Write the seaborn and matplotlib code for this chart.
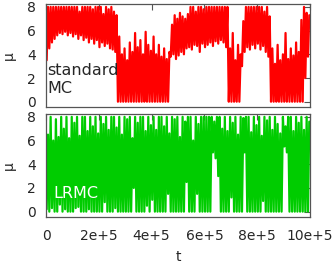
import numpy as np
import pandas as pd
import matplotlib
matplotlib.use("Agg")
import matplotlib.pyplot as plt
import seaborn as sns

# trace envelopes, one bin every 1e4 steps
t_bins = np.arange(100) * 1e4

std_hi = [8, 8, 8, 8, 8, 8, 8, 8, 8, 8,
          8, 8, 7.6, 8, 8, 8, 8, 7.8, 8, 8,
          8, 7.4, 8, 7.8, 8, 7.6, 7.3,
          5.5, 4.0, 4.5, 3.5, 5.0, 4.2, 5.8, 4.6, 5.2, 4.0,
          5.9, 4.8, 4.3, 5.5, 4.0, 4.8, 3.8, 4.5, 3.6, 4.2,
          6.5, 7.3, 7.0, 7.5, 7.2, 7.0, 7.4, 8, 8, 7.6, 8,
          8, 7.8, 8, 8, 8, 8, 8, 8, 8, 8, 8,
          4.5, 5.8, 3.5, 4.8, 4.0,
          6.8, 8, 8, 8, 8, 8, 8, 8, 7.6, 8, 7.2,
          4.5, 3.2, 4.8, 3.5, 4.0, 5.8, 3.6, 4.5, 3.9, 5.0,
          4.2, 6.9, 8.0, 7.5, 7.3]
std_lo = [3.5, 4.5, 5.0, 5.3, 5.6, 5.8, 5.7, 5.9, 5.6, 5.8,
          5.5, 5.7, 5.3, 5.6, 5.2, 5.4, 5.0, 5.3, 4.9, 5.2,
          4.6, 5.0, 4.7, 4.9, 4.5, 4.4, 4.2,
          0, 0, 0, 0, 0, 0, 0, 0, 0, 0,
          0, 0, 0, 0, 0, 0, 0, 0, 0, 0,
          3.8, 4.0, 3.6, 3.9, 4.2, 4.0, 4.5, 4.6, 4.4, 4.8, 4.7,
          4.2, 4.9, 4.6, 4.8, 5.0, 4.7, 5.1, 4.9, 5.2, 5.0, 4.6,
          0, 0, 0, 0, 0,
          3.0, 4.2, 4.6, 4.4, 4.8, 4.5, 4.9, 4.4, 4.7, 4.2, 3.8,
          0, 0, 0, 0, 0, 0, 0, 0, 0, 0,
          0, 0, 0, 2.0, 3.8]

lr_hi = [6.5, 8, 6.0, 7.8, 6.3, 8, 7.0, 8, 6.2, 8,
         7.5, 8, 6.4, 8, 8, 6.8, 8, 7.2, 8, 6.6,
         8, 7.4, 8, 6.9, 8, 8, 7.1, 8, 6.5, 8,
         7.8, 8, 6.2, 8, 7.5, 8, 8, 6.8, 8, 7.3,
         8, 6.9, 8, 8, 7.2, 8, 6.6, 8, 7.8, 8,
         6.3, 8, 7.6, 8, 8, 6.0, 8, 7.4, 8, 8,
         8, 8, 8, 7.6, 8, 8, 7.0, 8, 6.8, 8,
         7.5, 8, 6.5, 8, 7.9, 8, 8, 6.7, 8, 7.3,
         8, 6.4, 8, 7.7, 8, 6.9, 8, 7.4, 6.6, 8,
         7.2, 8, 8, 6.8, 8, 7.5, 8, 6.9, 8, 7.6]
lr_lo = [0.2, 0, 0.3, 0, 0, 0.6, 0, 0.2, 0, 0,
         0, 0.3, 0.4, 0, 0, 0, 0.2, 0, 0, 0,
         0, 0, 0.8, 0, 0, 0, 0.3, 0, 0, 0,
         0, 0, 0, 2.0, 0, 0, 0, 0, 0.5, 0,
         1.0, 0, 0, 0, 0, 0, 1.5, 0, 0, 0,
         0, 0, 0, 2.5, 0, 0, 0, 1.5, 0, 0,
         0, 0, 0, 5.0, 4.5, 3.0, 0, 0, 0, 0,
         1.2, 0, 0, 0, 0, 5.0, 0, 0, 0, 0,
         0, 0, 0.9, 0, 0, 0, 0, 0, 0, 0,
         5.5, 5.0, 0, 0, 0, 0, 0, 0, 0, 0]

x_ticks = [0, 2e5, 4e5, 6e5, 8e5, 10e5]
x_labels = ['0', '2e+5', '4e+5', '6e+5', '8e+5', '10e+5']
y_ticks = [0, 2, 4, 6, 8]


def trace(lo, hi):
    # one swing between the low and high edge inside every bin
    t = np.repeat(t_bins, 2) + np.tile([2.5e3, 7.5e3], len(t_bins))
    mu = np.column_stack([lo, hi]).ravel()
    return pd.DataFrame({'t': t, 'mu': mu})


sns.set_style('white')
plt.rcParams['font.family'] = ['DejaVu Sans']

fig = plt.figure(figsize=(3.32, 2.63), dpi=100)
ax1 = fig.add_axes([0.1386, 0.593, 0.795, 0.392])
ax2 = fig.add_axes([0.1386, 0.175, 0.795, 0.392])

sns.lineplot(data=trace(std_lo, std_hi), x='t', y='mu', ax=ax1,
             color='#ff0000', lw=1.6, estimator=None)
sns.lineplot(data=trace(lr_lo, lr_hi), x='t', y='mu', ax=ax2,
             color='#00cc00', lw=1.6, estimator=None)

for ax in (ax1, ax2):
    ax.set_xlim(0, 1e6)
    ax.set_ylim(-0.45, 8.25)
    ax.set_xticks(x_ticks)
    ax.set_yticks(y_ticks)
    ax.set_ylabel('μ', fontsize=10, labelpad=8)
    ax.tick_params(direction='in', top=True, right=True, length=4,
                   width=0.8, color='#555555', labelsize=10)
    ax.tick_params(axis='y', pad=7.5)
    ax.tick_params(axis='x', pad=8.5)
    for s in ax.spines.values():
        s.set_color('#555555')
        s.set_linewidth(0.9)
        s.set_zorder(5)

ax1.set_xticklabels([])
ax1.set_xlabel('')
ax2.set_xticklabels(x_labels)
ax2.set_xlabel('t', fontsize=10, labelpad=5)

ax1.text(0.005, 0.27, 'standard\nMC', transform=ax1.transAxes,
         fontsize=11.5, va='center', ha='left', linespacing=1.25)
ax2.text(0.027, 0.23, 'LRMC', transform=ax2.transAxes,
         fontsize=11.5, va='center', ha='left', color='white')

fig.savefig('out.png', dpi=100)
